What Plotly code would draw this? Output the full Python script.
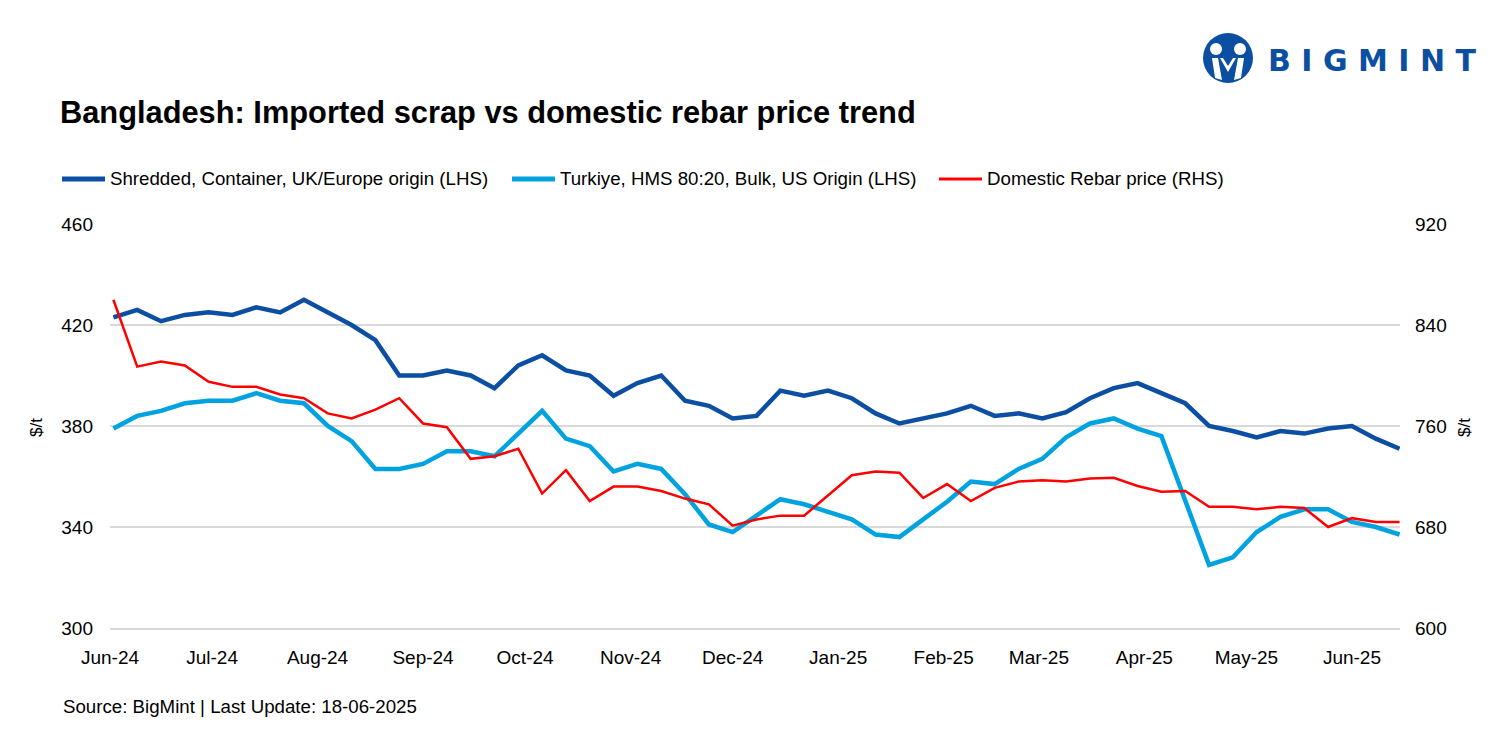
import plotly.graph_objects as go

dates = [
    "2024-06-02", "2024-06-09", "2024-06-16", "2024-06-23", "2024-06-30",
    "2024-07-07", "2024-07-14", "2024-07-21", "2024-07-28",
    "2024-08-04", "2024-08-11", "2024-08-18", "2024-08-25",
    "2024-09-01", "2024-09-08", "2024-09-15", "2024-09-22", "2024-09-29",
    "2024-10-06", "2024-10-13", "2024-10-20", "2024-10-27",
    "2024-11-03", "2024-11-10", "2024-11-17", "2024-11-24",
    "2024-12-01", "2024-12-08", "2024-12-15", "2024-12-22", "2024-12-29",
    "2025-01-05", "2025-01-12", "2025-01-19", "2025-01-26",
    "2025-02-02", "2025-02-09", "2025-02-16", "2025-02-23",
    "2025-03-02", "2025-03-09", "2025-03-16", "2025-03-23", "2025-03-30",
    "2025-04-06", "2025-04-13", "2025-04-20", "2025-04-27",
    "2025-05-04", "2025-05-11", "2025-05-18", "2025-05-25",
    "2025-06-01", "2025-06-08", "2025-06-15",
]

shredded_uk = [
    423, 426, 421.5, 424, 425, 424, 427, 425, 430, 425, 420, 414, 400, 400,
    402, 400, 395, 404, 408, 402, 400, 392, 397, 400, 390, 388, 383, 384,
    394, 392, 394, 391, 385, 381, 383, 385, 388, 384, 385, 383, 385.5, 391,
    395, 397, 393, 389, 380, 378, 375.5, 378, 377, 379, 380, 375, 371,
]

hms_us = [
    379, 384, 386, 389, 390, 390, 393, 390, 389, 380, 374, 363, 363, 365,
    370, 370, 368, 377, 386, 375, 372, 362, 365, 363, 353, 341, 338, 344.5,
    351, 349, 346, 343, 337, 336, 343, 350, 358, 357, 363, 367, 375.5, 381,
    383, 379, 376, 350, 325, 328, 338, 344, 347, 347, 342, 340, 337,
]

rebar_bd = [
    860, 807, 811, 808, 795, 791, 791, 785, 782, 770, 766, 773, 782, 762,
    759, 734, 736, 742, 706.5, 725, 700.5, 712, 712, 708.5, 702.5, 698, 681,
    686, 689, 689, 705, 721, 724, 723, 703, 714, 700.5, 711, 716, 717, 716,
    718.5, 719, 712.5, 708, 708.5, 696, 696, 694, 696, 695, 680, 687, 684, 684,
]

series_names = [
    "Shredded, Container, UK/Europe origin (LHS)",
    "Turkiye, HMS 80:20, Bulk, US Origin (LHS)",
    "Domestic Rebar price (RHS)",
]

month_ticks = [
    "2024-06-01", "2024-07-01", "2024-08-01", "2024-09-01", "2024-10-01",
    "2024-11-01", "2024-12-01", "2025-01-01", "2025-02-01", "2025-03-01",
    "2025-04-01", "2025-05-01", "2025-06-01",
]
month_labels = [
    "Jun-24", "Jul-24", "Aug-24", "Sep-24", "Oct-24", "Nov-24", "Dec-24",
    "Jan-25", "Feb-25", "Mar-25", "Apr-25", "May-25", "Jun-25",
]

left_ticks = [300, 340, 380, 420, 460]
right_ticks = [600, 680, 760, 840, 920]

FONT = "Liberation Sans"
DARK = "#0B4EA2"
LIGHT = "#00A3E0"
RED = "#FF0000"
GRID = "#D9D9D9"

# page offset of the figure (default body margin)
OFF = 8
W, H = 1480, 730
L, T = 110 - OFF, 224 - OFF
R = W - (1400 - OFF)
B = H - (628 - OFF)
PW, PH = W - L - R, H - T - B


def px(x):
    """page x pixel -> paper x"""
    return (x - OFF - L) / PW


def py(y):
    """page y pixel -> paper y"""
    return (H - B - (y - OFF)) / PH


colors = [DARK, LIGHT, RED]
widths = [4.5, 4.5, 2.5]

fig = go.Figure()
fig.add_trace(go.Scatter(x=dates, y=shredded_uk, mode="lines", name=series_names[0],
                         line=dict(color=DARK, width=widths[0])))
fig.add_trace(go.Scatter(x=dates, y=hms_us, mode="lines", name=series_names[1],
                         line=dict(color=LIGHT, width=widths[1])))
fig.add_trace(go.Scatter(x=dates, y=rebar_bd, mode="lines", yaxis="y2", name=series_names[2],
                         line=dict(color=RED, width=widths[2])))

shapes = [
    # logo icon
    dict(type="circle", xref="paper", yref="paper",
         x0=px(1203), x1=px(1253), y0=py(83), y1=py(33),
         fillcolor=DARK, line=dict(width=0)),
    dict(type="circle", xref="paper", yref="paper",
         x0=px(1210), x1=px(1222), y0=py(55), y1=py(43),
         fillcolor="white", line=dict(width=0)),
    dict(type="circle", xref="paper", yref="paper",
         x0=px(1234), x1=px(1246), y0=py(55), y1=py(43),
         fillcolor="white", line=dict(width=0)),
    dict(type="path", xref="paper", yref="paper",
         path=(f"M {px(1212)},{py(58)} L {px(1218)},{py(58)} L {px(1222)},{py(80)} "
               f"L {px(1215)},{py(78)} Z"),
         fillcolor="white", line=dict(width=0)),
    dict(type="path", xref="paper", yref="paper",
         path=(f"M {px(1238)},{py(58)} L {px(1244)},{py(58)} L {px(1241)},{py(78)} "
               f"L {px(1234)},{py(80)} Z"),
         fillcolor="white", line=dict(width=0)),
    dict(type="path", xref="paper", yref="paper",
         path=(f"M {px(1220)},{py(58)} L {px(1228)},{py(72)} L {px(1236)},{py(58)} "
               f"L {px(1233)},{py(58)} L {px(1228)},{py(66)} L {px(1223)},{py(58)} Z"),
         fillcolor="white", line=dict(width=0)),
]

# manual legend (page pixel positions of sample lines)
legend_line_x = [(62, 105), (512, 555), (939, 982)]
legend_line_w = [5, 5, 3]
LEG_Y = 179
annotations = []
for (x0, x1), c, lw, name in zip(legend_line_x, colors, legend_line_w, series_names):
    shapes.append(dict(type="line", xref="paper", yref="paper",
                       x0=px(x0), x1=px(x1), y0=py(LEG_Y), y1=py(LEG_Y),
                       line=dict(color=c, width=lw)))
    annotations.append(dict(text=name, xref="paper", yref="paper",
                            x=px(x1 + 3), y=py(LEG_Y), xanchor="left",
                            yanchor="middle", showarrow=False,
                            font=dict(family=FONT, size=18.7, color="#000000")))

annotations += [
    dict(text="<b>Bangladesh: Imported scrap vs domestic rebar price trend</b>",
         xref="paper", yref="paper", x=px(58), y=py(113), xanchor="left",
         yanchor="middle", showarrow=False,
         font=dict(family=FONT, size=30.8, color="#000000")),
    dict(text="Source: BigMint | Last Update: 18-06-2025",
         xref="paper", yref="paper", x=px(61), y=py(706), xanchor="left",
         yanchor="middle", showarrow=False,
         font=dict(family=FONT, size=18.7, color="#000000")),
    dict(text="$/t", xref="paper", yref="paper", x=px(36), y=py(428),
         xanchor="center", yanchor="middle", showarrow=False, textangle=-90,
         font=dict(family=FONT, size=17, color="#000000")),
    dict(text="$/t", xref="paper", yref="paper", x=px(1464), y=py(428),
         xanchor="center", yanchor="middle", showarrow=False, textangle=-90,
         font=dict(family=FONT, size=17, color="#000000")),
    dict(text="<b>B I G M I N T</b>", xref="paper", yref="paper",
         x=px(1266), y=py(60), xanchor="left", yanchor="middle",
         showarrow=False, font=dict(family="DejaVu Sans", size=30, color=DARK)),
]

fig.update_layout(
    width=W, height=H,
    margin=dict(l=L, r=R, t=T, b=B),
    paper_bgcolor="white", plot_bgcolor="white",
    font=dict(family=FONT, size=19, color="#000000"),
    showlegend=False,
    xaxis=dict(type="date", range=["2024-06-01", "2025-06-15 03:00"],
               tickmode="array", tickvals=month_ticks, ticktext=month_labels,
               showgrid=False, zeroline=False, showline=True,
               linecolor=GRID, linewidth=1.5, ticks="",
               ticklabelstandoff=11,
               tickfont=dict(family=FONT, size=19, color="#000000")),
    yaxis=dict(range=[300, 460], tickmode="array", tickvals=left_ticks,
               showgrid=True, gridcolor=GRID, gridwidth=1.5,
               zeroline=False, showline=False, ticks="",
               ticklabelstandoff=16,
               tickfont=dict(family=FONT, size=19, color="#000000")),
    yaxis2=dict(range=[600, 920], tickmode="array", tickvals=right_ticks,
                overlaying="y", side="right", showgrid=False, zeroline=False,
                showline=False, ticks="", ticklabelstandoff=14,
                tickfont=dict(family=FONT, size=19, color="#000000")),
    shapes=shapes,
    annotations=annotations,
    hovermode=False,
)

fig.write_html("out.html")
